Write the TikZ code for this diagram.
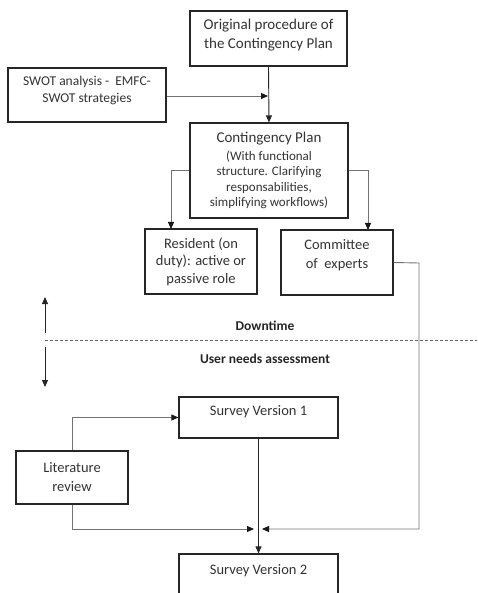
\documentclass[tikz,border=0pt]{standalone}
\usepackage{fontspec}
\setmainfont{Carlito}
\usetikzlibrary{arrows.meta}
\begin{document}
\begin{tikzpicture}[x=1pt,y=-1pt,
  box/.style={draw=black!85,line width=1.2pt,inner sep=0pt},
  txt/.style={align=center,inner sep=0pt,font=\fontsize{14.5}{19}\selectfont,text=black!80},
  smalltxt/.style={align=center,inner sep=0pt,font=\fontsize{13}{15.5}\selectfont,text=black!80},
  lbl/.style={inner sep=0pt,font=\fontsize{13.5}{16}\selectfont\bfseries,text=black!85},
  arr/.style={line width=0.9pt,draw=black!85,-{Triangle[length=7pt,width=6pt]}},
  garr/.style={line width=0.9pt,draw=black!55,-{Triangle[length=7pt,width=6pt,color=black!90]}},
  gline/.style={line width=0.9pt,draw=black!55}]
\useasboundingbox (0,0) rectangle (477,593);
% boxes
\node[box,minimum width=157pt,minimum height=55pt] (orig) at (268.5,38.5) {};
\node[txt,font=\fontsize{15}{19}\selectfont] (origt) at (268.5,35.5) {Original\ procedure\ of\\the\ Contingency\ Plan};
\node[box,minimum width=158pt,minimum height=54pt] (swot) at (87,95) {};
\node[smalltxt,font=\fontsize{13.5}{17}\selectfont] (swott) at (87,90.5) {SWOT analysis -\ \ EMFC-\\SWOT strategies};
\node[box,minimum width=158pt,minimum height=95pt] (cp) at (269,170.5) {};
\node[txt,font=\fontsize{15}{19}\selectfont] (cpt1) at (269,139) {Contingency\ Plan};
\node[smalltxt] (cpt2) at (269,180) {(With functional\\structure. Clarifying\\responsabilities,\\simplifying workflows)};
\node[box,minimum width=112pt,minimum height=65pt] (res) at (201,261.5) {};
\node[txt,font=\fontsize{14.5}{17.5}\selectfont] (rest) at (201,261.5) {Resident (on\\duty): active or\\passive role};
\node[box,minimum width=112pt,minimum height=65pt] (com) at (337,262.5) {};
\node[txt] (comt) at (337,255.5) {Committee\\of\ \ experts};
\node[box,minimum width=159pt,minimum height=41pt] (sv1) at (258.5,417.5) {};
\node[txt] (sv1t) at (258.5,412) {Survey Version 1};
\node[box,minimum width=112pt,minimum height=53pt] (lit) at (72,477.5) {};
\node[txt] (litt) at (72,477) {Literature\\review};
\node[box,minimum width=159pt,minimum height=46pt] (sv2) at (258.5,577) {};
\node[txt] (sv2t) at (258.5,571) {Survey Version 2};
% phase labels
\node[lbl] (down) at (265,326) {Downtime};
\node[lbl] (user) at (265,359) {User needs assessment};
% coordinates
\coordinate (j1) at (268,96);
\coordinate (rtop) at (171,229);
\coordinate (ctop) at (368,230);
\coordinate (rc) at (419,263);
\coordinate (jr) at (262,529);
\coordinate (jl) at (254,529);
\coordinate (up1) at (45,333);
\coordinate (up2) at (45,297);
\coordinate (dn1) at (45,347);
\coordinate (dn2) at (45,387);
\coordinate (d1) at (45,340);
\coordinate (d2) at (477,340);
% connectors
\draw[arr] (orig.south) -- (cp.north);
\draw[garr] (swot.east |- j1) -- (j1);
\draw[garr] (cp.west) -| (rtop);
\draw[garr] (cp.east) -| (ctop);
\draw[garr] (com.east) -- (rc) -- (rc |- jr) -- (jr);
\draw[garr] (lit.north) |- (sv1.west);
\draw[garr] (lit.south) |- (jl);
\draw[arr] (sv1.south) -- (sv2.north);
\draw[arr] (up1) -- (up2);
\draw[arr] (dn1) -- (dn2);
\draw[black!60,line width=0.8pt,dash pattern=on 3pt off 2pt] (d1) -- (d2);
\end{tikzpicture}
\end{document}
